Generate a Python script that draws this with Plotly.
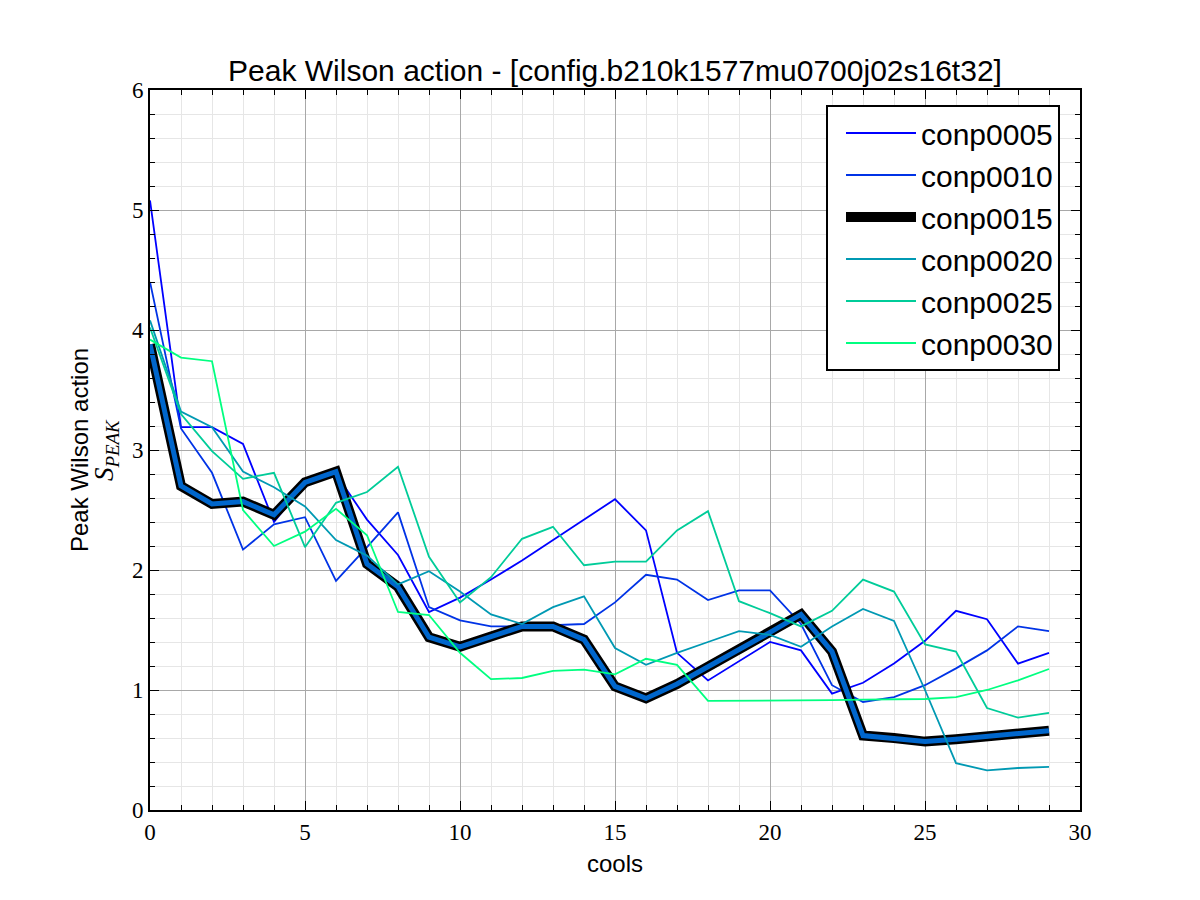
import plotly.graph_objects as go

cools = list(range(30))

conp0005 = [5.08, 3.19, 3.19, 3.05, 2.40, 2.72, 2.80, 2.42, 2.125, 1.65,
            1.77, 1.92, 2.08, 2.25, 2.42, 2.59, 2.33, 1.31, 1.08, 1.24,
            1.40, 1.33, 0.97, 1.06, 1.22, 1.41, 1.66, 1.59, 1.22, 1.31]
conp0010 = [4.40, 3.18, 2.81, 2.17, 2.38, 2.44, 1.91, 2.19, 2.48, 1.69,
            1.58, 1.53, 1.53, 1.54, 1.55, 1.73, 1.96, 1.92, 1.75, 1.83,
            1.83, 1.55, 1.04, 0.90, 0.94, 1.04, 1.18, 1.33, 1.53, 1.49]
conp0015 = [3.88, 2.70, 2.55, 2.57, 2.46, 2.73, 2.82, 2.05, 1.86, 1.44,
            1.36, 1.44, 1.53, 1.53, 1.42, 1.03, 0.93, 1.05, 1.19, 1.34,
            1.48, 1.63, 1.32, 0.62, 0.60, 0.57, 0.59, 0.61, 0.63, 0.66]
conp0020 = [4.08, 3.32, 3.19, 2.82, 2.69, 2.53, 2.25, 2.12, 1.88, 1.99,
            1.82, 1.63, 1.55, 1.69, 1.78, 1.35, 1.21, 1.31, 1.40, 1.49,
            1.46, 1.36, 1.53, 1.675, 1.575, 1.00, 0.39, 0.33, 0.35, 0.36]
conp0025 = [4.02, 3.30, 2.99, 2.76, 2.81, 2.19, 2.56, 2.65, 2.86, 2.11,
            1.73, 1.94, 2.26, 2.36, 2.04, 2.07, 2.07, 2.33, 2.49, 1.74,
            1.64, 1.53, 1.66, 1.92, 1.82, 1.38, 1.32, 0.85, 0.77, 0.81]
conp0030 = [3.92, 3.77, 3.74, 2.50, 2.20, 2.32, 2.51, 2.29, 1.65, 1.625,
            1.31, 1.09, 1.10, 1.16, 1.17, 1.13, 1.26, 1.21, 0.91, 0.91,
            0.91, 0.91, 0.915, 0.92, 0.92, 0.925, 0.94, 1.00, 1.08, 1.175]

names = ["conp0005", "conp0010", "conp0015", "conp0020", "conp0025", "conp0030"]
series = [conp0005, conp0010, conp0015, conp0020, conp0025, conp0030]
colors = ["#0000ff", "#0033e6", "#0066cc", "#0099b3", "#00cc99", "#00ff80"]

SANS = "Liberation Sans, Arial, sans-serif"
SERIF = "Liberation Serif, DejaVu Serif, serif"

fig = go.Figure()
for name, ys, col in zip(names, series, colors):
    if name == "conp0015":
        fig.add_trace(go.Scatter(x=cools, y=ys, mode="lines", name=name,
                                 legendgroup=name,
                                 line=dict(color="black", width=10)))
        fig.add_trace(go.Scatter(x=cools, y=ys, mode="lines", name=name,
                                 legendgroup=name, showlegend=False,
                                 line=dict(color=col, width=5)))
    else:
        fig.add_trace(go.Scatter(x=cools, y=ys, mode="lines", name=name,
                                 legendgroup=name,
                                 line=dict(color=col, width=1.8)))

axis_common = dict(
    showline=True, linecolor="black", linewidth=2, mirror="allticks",
    ticks="inside", ticklen=9, tickwidth=1.2, tickcolor="black",
    showgrid=True, gridcolor="#a8a8a8", gridwidth=1.2,
    zeroline=False,
    tickfont=dict(family=SERIF, size=23, color="black"),
)

fig.update_xaxes(range=[0, 30], dtick=5, tick0=0,
                 minor=dict(dtick=1, ticks="inside", ticklen=5, tickcolor="black",
                            showgrid=True, gridcolor="#e6e6e6", gridwidth=1.2),
                 title=dict(text="cools", font=dict(family=SANS, size=24, color="black"),
                            standoff=12),
                 **axis_common)
fig.update_yaxes(range=[0, 6], dtick=1, tick0=0,
                 minor=dict(dtick=0.2, ticks="inside", ticklen=5, tickcolor="black",
                            showgrid=True, gridcolor="#e6e6e6", gridwidth=1.2),
                 **axis_common)

fig.add_annotation(text="Peak Wilson action", textangle=-90,
                   xref="paper", yref="paper", x=(79 - 150) / 930, y=0.5,
                   xanchor="center", yanchor="middle", showarrow=False,
                   font=dict(family=SANS, size=24, color="black"))
fig.add_annotation(text="<i>S</i><sub><i>PEAK</i></sub>", textangle=-90,
                   xref="paper", yref="paper", x=(106 - 150) / 930, y=0.5,
                   xanchor="center", yanchor="middle", showarrow=False,
                   font=dict(family=SERIF, size=27, color="black"))

fig.update_layout(
    width=1200, height=900,
    margin=dict(l=150, r=120, t=90, b=90),
    paper_bgcolor="white", plot_bgcolor="white",
    title=dict(text="Peak Wilson action - [config.b210k1577mu0700j02s16t32]",
               x=615 / 1200, xanchor="center", y=1 - 70 / 900, yanchor="middle",
               font=dict(family=SANS, size=30, color="black")),
    legend=dict(x=(826 - 150) / 930, y=(810 - 105) / 720, xanchor="left", yanchor="top",
                bgcolor="white", bordercolor="black", borderwidth=2,
                font=dict(family=SANS, size=30, color="black"),
                traceorder="grouped", tracegroupgap=0, itemwidth=70,
                indentation=13),
    showlegend=True,
)

fig.write_html("out.html")
